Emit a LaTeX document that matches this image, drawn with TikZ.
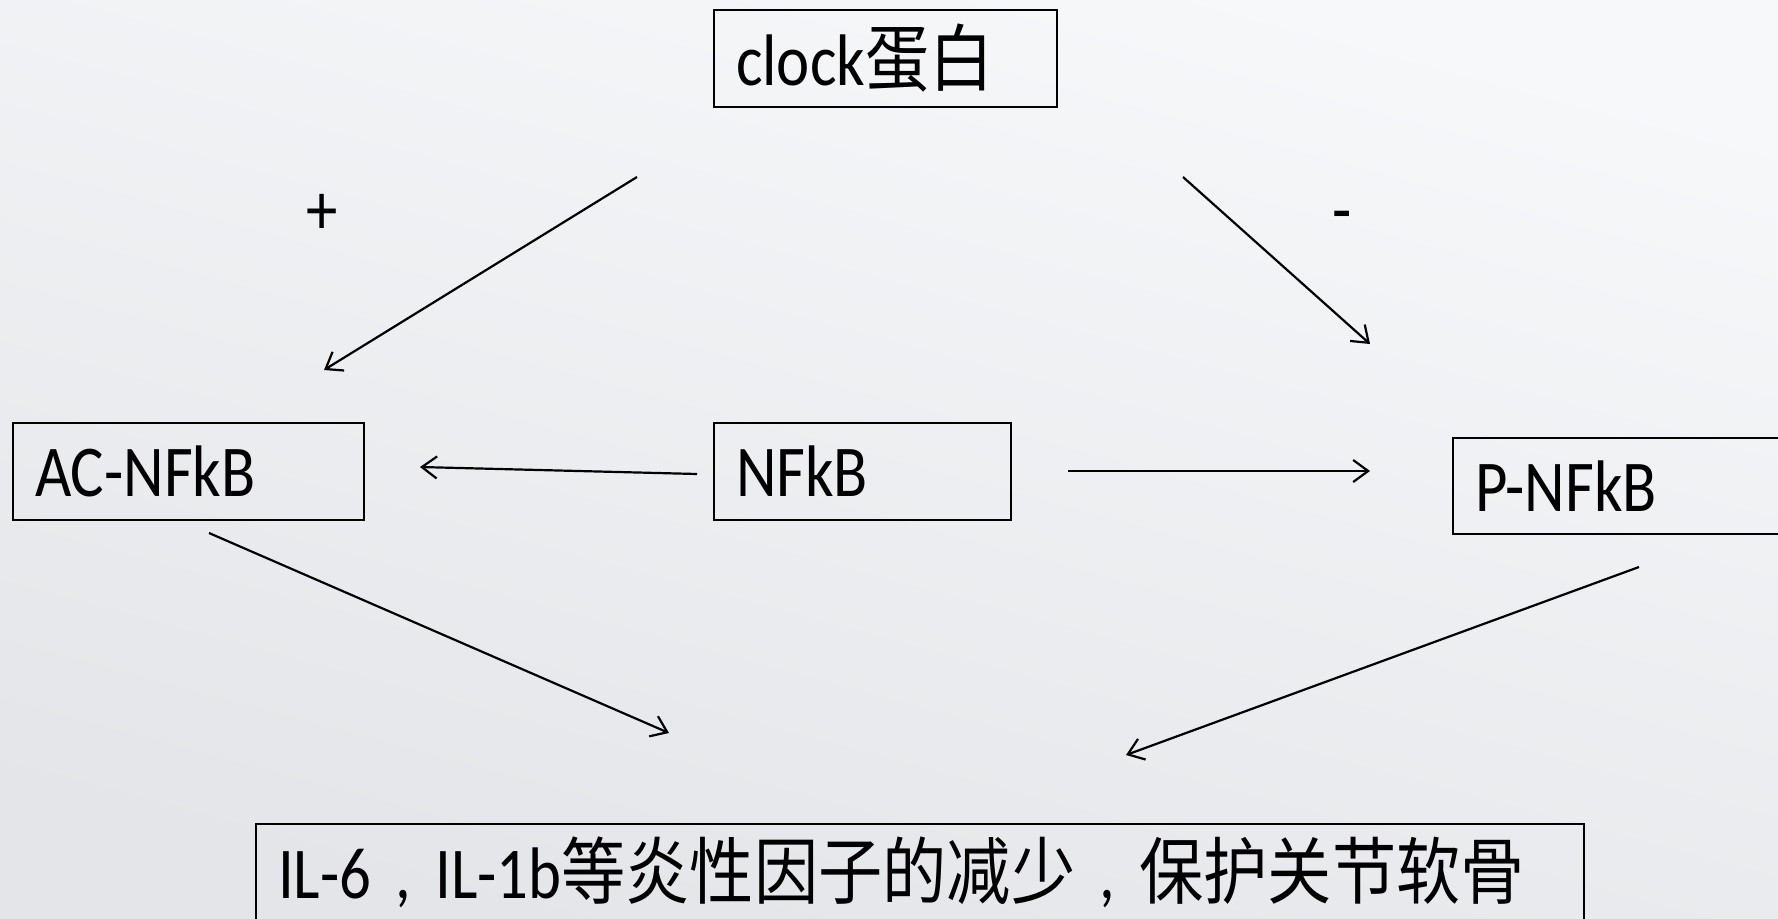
\documentclass[tikz,border=0pt]{standalone}
\usepackage{fontspec}
\setmainfont{Carlito}[FakeStretch=0.86]
\newfontfamily\cjk{Noto Sans CJK SC}[FakeStretch=0.88]
\newcommand\fwcomma{\makebox[64bp][c]{,}}
\usetikzlibrary{arrows.meta}
\definecolor{bgtop}{HTML}{F6F8FA}
\definecolor{bgbot}{HTML}{E3E5E8}
\begin{document}
\begin{tikzpicture}[x=1bp,y=-1bp,
  box/.style={draw=black,line width=2bp,anchor=north west,inner xsep=22bp,inner ysep=0bp,
    align=left,font=\fontsize{73bp}{80bp}\selectfont},
  conn/.style={line width=2.2bp,-{Straight Barb[length=15bp,width=22bp,line width=2.2bp]}},
  sign/.style={inner sep=0pt,font=\fontsize{73bp}{80bp}\selectfont}]
\shade[top color=bgtop,bottom color=bgbot,shading angle=-15] (0,0) rectangle (1778,918);
\useasboundingbox (0,0) rectangle (1778,918);
\node[box,text width=343bp-44bp,minimum height=97bp] (clock) at (713,9) {clock{\cjk 蛋白}};
\node[box,text width=351bp-44bp,minimum height=97bp] (ac) at (12,422) {AC-NFkB};
\node[box,text width=297bp-44bp,minimum height=97bp] (nf) at (713,422) {NFkB};
\node[box,text width=400bp-44bp,minimum height=96bp] (p) at (1452,437) {P-NFkB};
\node[box,text width=1328bp-44bp,minimum height=97bp] (il) at (255,823) {IL-6\fwcomma IL-1b{\cjk 等炎性因子的减少}\fwcomma{\cjk 保护关节软骨}};
\node[sign] (plus) at (322,214) {+};
\node[sign] (minus) at (1342,223) {-};
\coordinate (c1s) at (637,177); \coordinate (c1e) at (324,370);
\coordinate (c2s) at (1183,177); \coordinate (c2e) at (1370,344);
\coordinate (n1s) at (697,474); \coordinate (n1e) at (420,467);
\coordinate (n2s) at (1068,471); \coordinate (n2e) at (1370,471);
\coordinate (a1s) at (209,533); \coordinate (a1e) at (669,733);
\coordinate (p1s) at (1639,567); \coordinate (p1e) at (1126,755);
\draw[conn] (c1s) -- (c1e);
\draw[conn] (c2s) -- (c2e);
\draw[conn] (n1s) -- (n1e);
\draw[conn] (n2s) -- (n2e);
\draw[conn] (a1s) -- (a1e);
\draw[conn] (p1s) -- (p1e);
\end{tikzpicture}
\end{document}
